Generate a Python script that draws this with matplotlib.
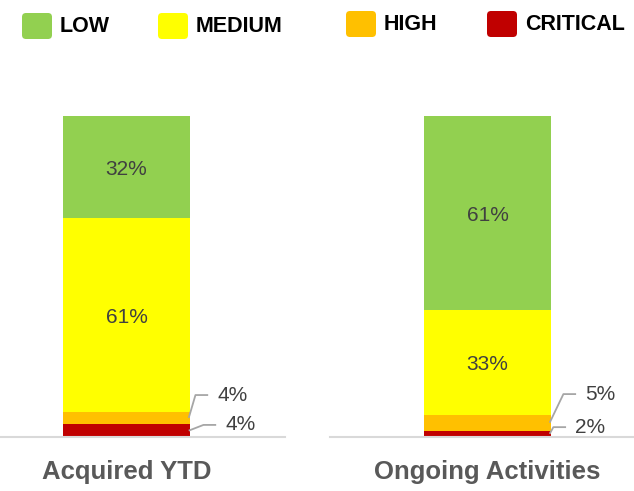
import matplotlib
matplotlib.use("Agg")
import matplotlib.pyplot as plt
from matplotlib.patches import FancyBboxPatch

plt.rcParams["font.family"] = ["Liberation Sans", "DejaVu Sans"]

# risk mix per portfolio, bottom to top
levels = ["CRITICAL", "HIGH", "MEDIUM", "LOW"]
colors = ["#C00000", "#FFC000", "#FFFF00", "#92D050"]
groups = ["Acquired YTD", "Ongoing Activities"]
acquired = [4, 4, 61, 32]
ongoing = [2, 5, 33, 61]

legend_order = ["LOW", "MEDIUM", "HIGH", "CRITICAL"]

W, H = 634, 491
fig = plt.figure(figsize=(W / 100, H / 100), dpi=100)

base_px, top_px = 437, 116


def px_axes(x0, x1):
    return fig.add_axes([x0 / W, (H - base_px) / H, (x1 - x0) / W,
                         (base_px - top_px) / H])


# axes extent in pixels and bar-centred x-limits (bar width = 1);
# label spots for the CRITICAL and HIGH call-outs
panels = [
    (acquired, groups[0], px_axes(0, 285), (-0.996, 1.248),
     [(0.776, 3.8), (0.713, 13.2)]),
    (ongoing, groups[1], px_axes(330, 634), (-1.240, 1.154),
     [(0.689, 3.1), (0.768, 13.5)]),
]

label_gray = "#404040"
for vals, name, ax, xlim, small_pos in panels:
    bottom = 0
    mids = []
    for v, c in zip(vals, colors):
        ax.bar(0, v, width=1.0, bottom=bottom, color=c, edgecolor="none")
        mids.append(bottom + v / 2)
        bottom += v
    ax.set_xlim(*xlim)
    ax.set_ylim(0, 101)
    for s in ["left", "right", "top"]:
        ax.spines[s].set_visible(False)
    ax.spines["bottom"].set_color("#d9d9d9")
    ax.spines["bottom"].set_linewidth(1.5)
    ax.set_xticks([])
    ax.set_yticks([])

    # large segments labelled inside
    for v, m in zip(vals[2:], mids[2:]):
        ax.text(0, m - 0.8, f"{v}%", ha="center", va="center", fontsize=15,
                color=label_gray)

    # thin segments get leader lines out to the right
    for (lx, ly), v, m in zip(small_pos, vals[:2], mids[:2]):
        ax.plot([0.49, lx - 0.17, lx - 0.07], [m, ly, ly], color="#a6a6a6",
                lw=1.3, clip_on=False, solid_capstyle="butt")
        ax.text(lx, ly, f"{v}%", ha="left", va="center", fontsize=15,
                color=label_gray, clip_on=False)

    ax.annotate(name, xy=(0, 0), xytext=(0, -25), textcoords="offset points",
                ha="center", va="center", fontsize=18.5, fontweight="bold",
                color="#595959", annotation_clip=False)

# legend row drawn in pixel space
lax = fig.add_axes([0, 0, 1, 1])
lax.set_xlim(0, W)
lax.set_ylim(H, 0)
lax.axis("off")
leg_x = [22, 158, 346, 487]
leg_y = [26, 26, 24, 24]
col_of = dict(zip(levels, colors))
for lbl, x, y in zip(legend_order, leg_x, leg_y):
    lax.add_patch(FancyBboxPatch((x + 3, y - 10), 24, 20,
                                 boxstyle="round,pad=3,rounding_size=4",
                                 fc=col_of[lbl], ec="none"))
    lax.text(x + 38, y, lbl, ha="left", va="center", fontsize=15.5,
             fontweight="bold", color="black")

fig.savefig("out.png", dpi=100)
